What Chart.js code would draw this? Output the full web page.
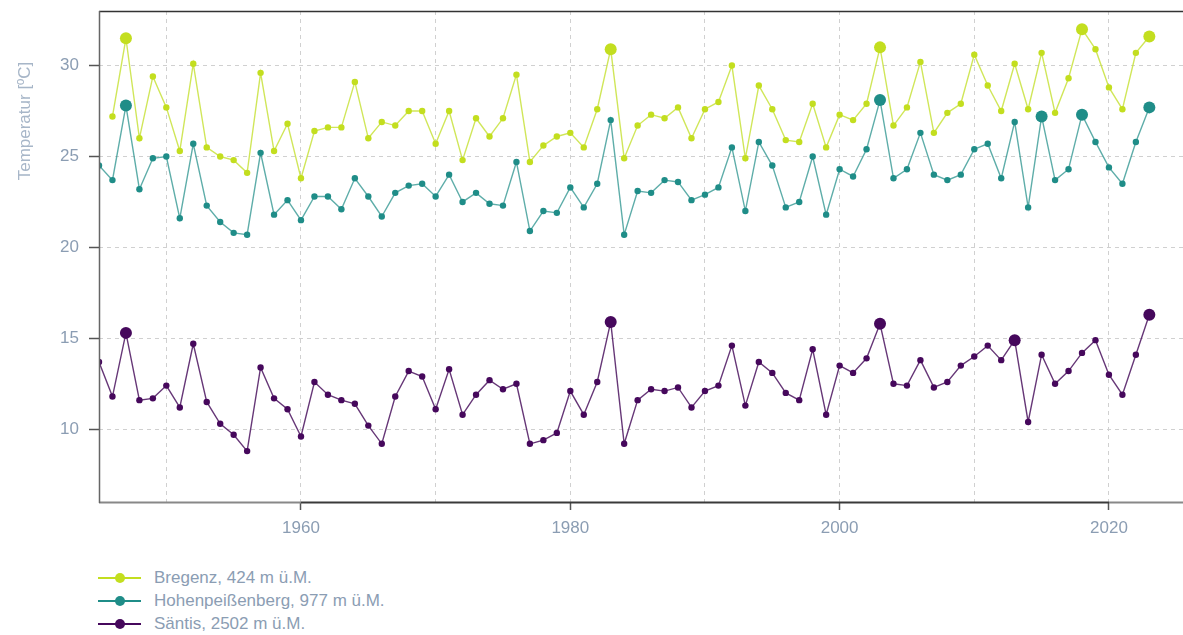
<!DOCTYPE html>
<html lang="de">
<head>
<meta charset="utf-8">
<title>Temperatur</title>
<script src="https://cdn.jsdelivr.net/npm/chart.js@4.4.1/dist/chart.umd.min.js"></script>
<style>
  html, body { margin: 0; padding: 0; background: #fff; }
  #wrap { position: relative; width: 1183px; height: 635px; overflow: hidden; }
  #box { position: absolute; left: 0; top: 0; width: 1183px; height: 548px; }
  #legend { position: absolute; left: 98px; top: 566px; font-family: "Liberation Sans", Arial, sans-serif;
            font-size: 17px; color: #8b9db3; }
  .lg-row { height: 23px; display: flex; align-items: center; }
  .lg-sym { position: relative; width: 43px; height: 10px; margin-right: 13px; }
  .lg-sym .ln { position: absolute; left: 0; right: 0; top: 4px; height: 2px; }
  .lg-sym .dt { position: absolute; left: 17px; top: 0; width: 10px; height: 10px; border-radius: 50%; }
</style>
</head>
<body>
<div id="wrap">
  <div id="box"><canvas id="chart"></canvas></div>
  <div id="legend"></div>
</div>
<script>
// ─────────────────────────────────────────────
//  DATA  (Jahreshöchstwerte, 1945–2023)
// ─────────────────────────────────────────────
const years = [
  1945, 1946, 1947, 1948, 1949, 1950, 1951, 1952, 1953, 1954,
  1955, 1956, 1957, 1958, 1959, 1960, 1961, 1962, 1963, 1964,
  1965, 1966, 1967, 1968, 1969, 1970, 1971, 1972, 1973, 1974,
  1975, 1976, 1977, 1978, 1979, 1980, 1981, 1982, 1983, 1984,
  1985, 1986, 1987, 1988, 1989, 1990, 1991, 1992, 1993, 1994,
  1995, 1996, 1997, 1998, 1999, 2000, 2001, 2002, 2003, 2004,
  2005, 2006, 2007, 2008, 2009, 2010, 2011, 2012, 2013, 2014,
  2015, 2016, 2017, 2018, 2019, 2020, 2021, 2022, 2023
];

const bregenz = [
  null, 27.2, 31.5, 26.0, 29.4, 27.7, 25.3, 30.1, 25.5, 25.0,
  24.8, 24.1, 29.6, 25.3, 26.8, 23.8, 26.4, 26.6, 26.6, 29.1,
  26.0, 26.9, 26.7, 27.5, 27.5, 25.7, 27.5, 24.8, 27.1, 26.1,
  27.1, 29.5, 24.7, 25.6, 26.1, 26.3, 25.5, 27.6, 30.9, 24.9,
  26.7, 27.3, 27.1, 27.7, 26.0, 27.6, 28.0, 30.0, 24.9, 28.9,
  27.6, 25.9, 25.8, 27.9, 25.5, 27.3, 27.0, 27.9, 31.0, 26.7,
  27.7, 30.2, 26.3, 27.4, 27.9, 30.6, 28.9, 27.5, 30.1, 27.6,
  30.7, 27.4, 29.3, 32.0, 30.9, 28.8, 27.6, 30.7, 31.6
];

const hohenpeissenberg = [
  24.5, 23.7, 27.8, 23.2, 24.9, 25.0, 21.6, 25.7, 22.3, 21.4,
  20.8, 20.7, 25.2, 21.8, 22.6, 21.5, 22.8, 22.8, 22.1, 23.8,
  22.8, 21.7, 23.0, 23.4, 23.5, 22.8, 24.0, 22.5, 23.0, 22.4,
  22.3, 24.7, 20.9, 22.0, 21.9, 23.3, 22.2, 23.5, 27.0, 20.7,
  23.1, 23.0, 23.7, 23.6, 22.6, 22.9, 23.3, 25.5, 22.0, 25.8,
  24.5, 22.2, 22.5, 25.0, 21.8, 24.3, 23.9, 25.4, 28.1, 23.8,
  24.3, 26.3, 24.0, 23.7, 24.0, 25.4, 25.7, 23.8, 26.9, 22.2,
  27.2, 23.7, 24.3, 27.3, 25.8, 24.4, 23.5, 25.8, 27.7
];

const saentis = [
  13.7, 11.8, 15.3, 11.6, 11.7, 12.4, 11.2, 14.7, 11.5, 10.3,
  9.7, 8.8, 13.4, 11.7, 11.1, 9.6, 12.6, 11.9, 11.6, 11.4,
  10.2, 9.2, 11.8, 13.2, 12.9, 11.1, 13.3, 10.8, 11.9, 12.7,
  12.2, 12.5, 9.2, 9.4, 9.8, 12.1, 10.8, 12.6, 15.9, 9.2,
  11.6, 12.2, 12.1, 12.3, 11.2, 12.1, 12.4, 14.6, 11.3, 13.7,
  13.1, 12.0, 11.6, 14.4, 10.8, 13.5, 13.1, 13.9, 15.8, 12.5,
  12.4, 13.8, 12.3, 12.6, 13.5, 14.0, 14.6, 13.8, 14.9, 10.4,
  14.1, 12.5, 13.2, 14.2, 14.9, 13.0, 11.9, 14.1, 16.3
];

// Rekordjahre (große Marker)
const recordsBregenz = [1947, 1983, 2003, 2018, 2023];
const recordsHohen   = [1947, 2003, 2015, 2018, 2023];
const recordsSaentis = [1947, 1983, 2003, 2013, 2023];

const seriesLabels = ['Bregenz, 424 m ü.M.', 'Hohenpeißenberg, 977 m ü.M.', 'Säntis, 2502 m ü.M.'];
const yTitle = 'Temperatur [ºC]';

// ─────────────────────────────────────────────
//  CHART
// ─────────────────────────────────────────────
const FONT = '"Liberation Sans", Arial, sans-serif';
const TICK_COLOR = '#8b9db3';

const toPoints = vals => years.map((y, i) => ({ x: y, y: vals[i] }));

function mkSet(label, vals, records, color, lineColor, order) {
  return {
    label,
    data: toPoints(vals),
    borderColor: lineColor,
    borderWidth: 1.4,
    backgroundColor: color,
    pointBackgroundColor: color,
    pointBorderWidth: 0,
    pointRadius: c => records.includes(c.raw && c.raw.x) ? 6 : 3.2,
    pointHoverRadius: c => records.includes(c.raw && c.raw.x) ? 6 : 3.2,
    tension: 0,
    spanGaps: false,
    order,
    clip: { left: 0, top: 10, right: 10, bottom: 10 }
  };
}

// Rahmen: obere Linie, gestufte untere Achse, Y-Titel
const framePlugin = {
  id: 'frame',
  afterDatasetsDraw(chart) {
    const { ctx, chartArea: a, scales } = chart;
    ctx.save();
    ctx.lineWidth = 1.5;
    ctx.strokeStyle = '#333';
    ctx.beginPath(); ctx.moveTo(a.left, a.top + 0.5); ctx.lineTo(a.right, a.top + 0.5); ctx.stroke();

    const x1960 = scales.x.getPixelForValue(1960);
    const x2020 = scales.x.getPixelForValue(2020);
    const yb = a.bottom + 0.5;
    ctx.lineWidth = 2;
    ctx.strokeStyle = '#888';
    ctx.beginPath(); ctx.moveTo(a.left, yb); ctx.lineTo(x1960, yb); ctx.moveTo(x2020, yb); ctx.lineTo(a.right, yb); ctx.stroke();
    ctx.strokeStyle = '#3a3a3a';
    ctx.beginPath(); ctx.moveTo(x1960, yb); ctx.lineTo(x2020, yb); ctx.stroke();

    ctx.lineWidth = 1.5;
    ctx.strokeStyle = '#666';
    ctx.beginPath(); ctx.moveTo(a.left + 0.5, a.top); ctx.lineTo(a.left + 0.5, a.bottom + 1); ctx.stroke();

    ctx.translate(25, 121);
    ctx.rotate(-Math.PI / 2);
    ctx.font = '17px ' + FONT;
    ctx.fillStyle = '#a7b6c8';
    ctx.textAlign = 'center';
    ctx.textBaseline = 'middle';
    ctx.fillText(yTitle, 0, 0);
    ctx.restore();
  }
};

const chart = new Chart(document.getElementById('chart'), {
  type: 'line',
  data: {
    datasets: [
      mkSet(seriesLabels[0], bregenz, recordsBregenz, '#c3de1f', 'rgba(200,226,60,0.85)', 3),
      mkSet(seriesLabels[1], hohenpeissenberg, recordsHohen, '#1f8d88', 'rgba(40,145,140,0.75)', 2),
      mkSet(seriesLabels[2], saentis, recordsSaentis, '#46085c', 'rgba(75,20,95,0.85)', 1)
    ]
  },
  options: {
    responsive: true,
    maintainAspectRatio: false,
    animation: false,
    layout: { autoPadding: false, padding: { top: 11, right: 0, left: 0, bottom: 0 } },
    plugins: { legend: { display: false }, tooltip: { enabled: false } },
    scales: {
      x: {
        type: 'linear',
        min: 1945,
        max: 2025.5,
        afterFit: s => { s.height = 46; s.paddingLeft = 0; s.paddingRight = 0; },
        border: { display: false, dash: [4, 4] },
        grid: {
          color: '#d0d0d0',
          lineWidth: 1,
          tickLength: 8,
          tickColor: c => (c.tick && c.tick.value % 20 === 0) ? '#555' : 'rgba(0,0,0,0)',
          tickWidth: 1.5
        },
        ticks: {
          stepSize: 10,
          includeBounds: false,
          autoSkip: false,
          maxRotation: 0,
          padding: 8,
          color: TICK_COLOR,
          font: { family: FONT, size: 17 },
          callback: v => (v % 20 === 0 ? String(v) : '')
        }
      },
      y: {
        min: 6,
        max: 33,
        afterFit: s => { s.width = 99; s.paddingTop = 0; s.paddingBottom = 0; },
        border: { display: false, dash: [4, 4] },
        grid: {
          color: '#d0d0d0',
          lineWidth: 1,
          tickLength: 10,
          tickColor: '#555',
          tickWidth: 1.5
        },
        ticks: {
          stepSize: 5,
          includeBounds: false,
          padding: 10,
          color: TICK_COLOR,
          font: { family: FONT, size: 17 }
        }
      }
    }
  },
  plugins: [framePlugin]
});

// ─────────────────────────────────────────────
//  LEGENDE
// ─────────────────────────────────────────────
const legend = document.getElementById('legend');
legend.innerHTML = chart.data.datasets.map(d => `
  <div class="lg-row">
    <span class="lg-sym"><span class="ln" style="background:${d.backgroundColor}"></span><span class="dt" style="background:${d.backgroundColor}"></span></span>
    <span>${d.label}</span>
  </div>`).join('');
</script>
</body>
</html>
